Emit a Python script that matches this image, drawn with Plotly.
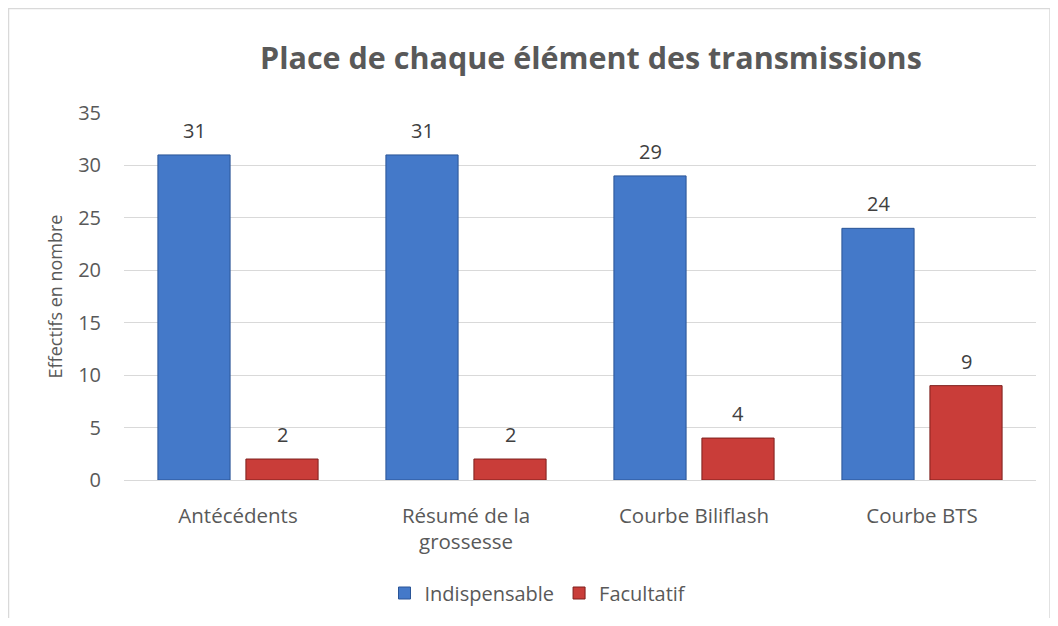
import plotly.graph_objects as go

categories = ["Antécédents", "Résumé de la<br>grossesse", "Courbe Biliflash", "Courbe BTS"]
indispensable = [31, 31, 29, 24]
facultatif = [2, 2, 4, 9]
title_text = "Place de chaque élément des transmissions"

FONT = "Open Sans, sans-serif"
GRAY = "#595959"
OFF = 8  # page body margin

W, H = 1050, 610
L, R, T, B = 124 - OFF, 1036 - OFF, 113 - OFF, 480 - OFF
pw, ph = R - L, B - T


def px(xr):
    return (xr - OFF - L) / pw


def py(yr):
    return (B - (yr - OFF)) / ph


fig = go.Figure()
fig.add_trace(go.Bar(
    name="Indispensable", x=categories, y=indispensable,
    marker=dict(color="#4479C9", line=dict(color="#2A5597", width=1)),
))
fig.add_trace(go.Bar(
    name="Facultatif", x=categories, y=facultatif,
    marker=dict(color="#C93D39", line=dict(color="#7E1F1D", width=1)),
))

annotations = [dict(text="<b>" + title_text + "</b>", xref="paper", yref="paper",
                    x=px(591), y=py(57), xanchor="center", yanchor="middle",
                    showarrow=False, font=dict(size=30.5, color=GRAY, family=FONT))]
for series, shift in ((indispensable, -44), (facultatif, 44)):
    for cat, v in zip(categories, series):
        annotations.append(dict(x=cat, y=v, xref="x", yref="y", text=str(v), showarrow=False,
                                xshift=shift, yshift=9, yanchor="bottom",
                                font=dict(size=20, color="#404040", family=FONT)))

fig.update_layout(
    width=W, height=H,
    margin=dict(l=L, r=W - R, t=T, b=H - B, autoexpand=False),
    paper_bgcolor="white", plot_bgcolor="white",
    barmode="group", bargap=0.228, bargroupgap=0.18,
    font=dict(family=FONT, color=GRAY, size=20),
    showlegend=True,
    legend=dict(orientation="h", x=px(538), xanchor="center", y=py(593), yanchor="middle",
                font=dict(size=20, color=GRAY), traceorder="normal"),
    xaxis=dict(showgrid=False, showline=False, ticks="", tickfont=dict(size=20.5, color=GRAY),
               ticklabelstandoff=21),
    yaxis=dict(range=[0, 35], dtick=5, showgrid=True, gridcolor="#D9D9D9", gridwidth=1,
               zeroline=True, zerolinecolor="#D9D9D9", zerolinewidth=1,
               tickfont=dict(size=20, color=GRAY), ticks="", ticklabelstandoff=22,
               title=dict(text="Effectifs en nombre", font=dict(size=18, color=GRAY), standoff=10)),
    shapes=[dict(type="rect", xref="paper", yref="paper",
                 x0=px(8.5), x1=px(1050), y0=py(660), y1=py(8.5),
                 line=dict(color="#D9D9D9", width=1.5), fillcolor="rgba(0,0,0,0)", layer="below")],
    annotations=annotations,
)

fig.write_html("out.html")
